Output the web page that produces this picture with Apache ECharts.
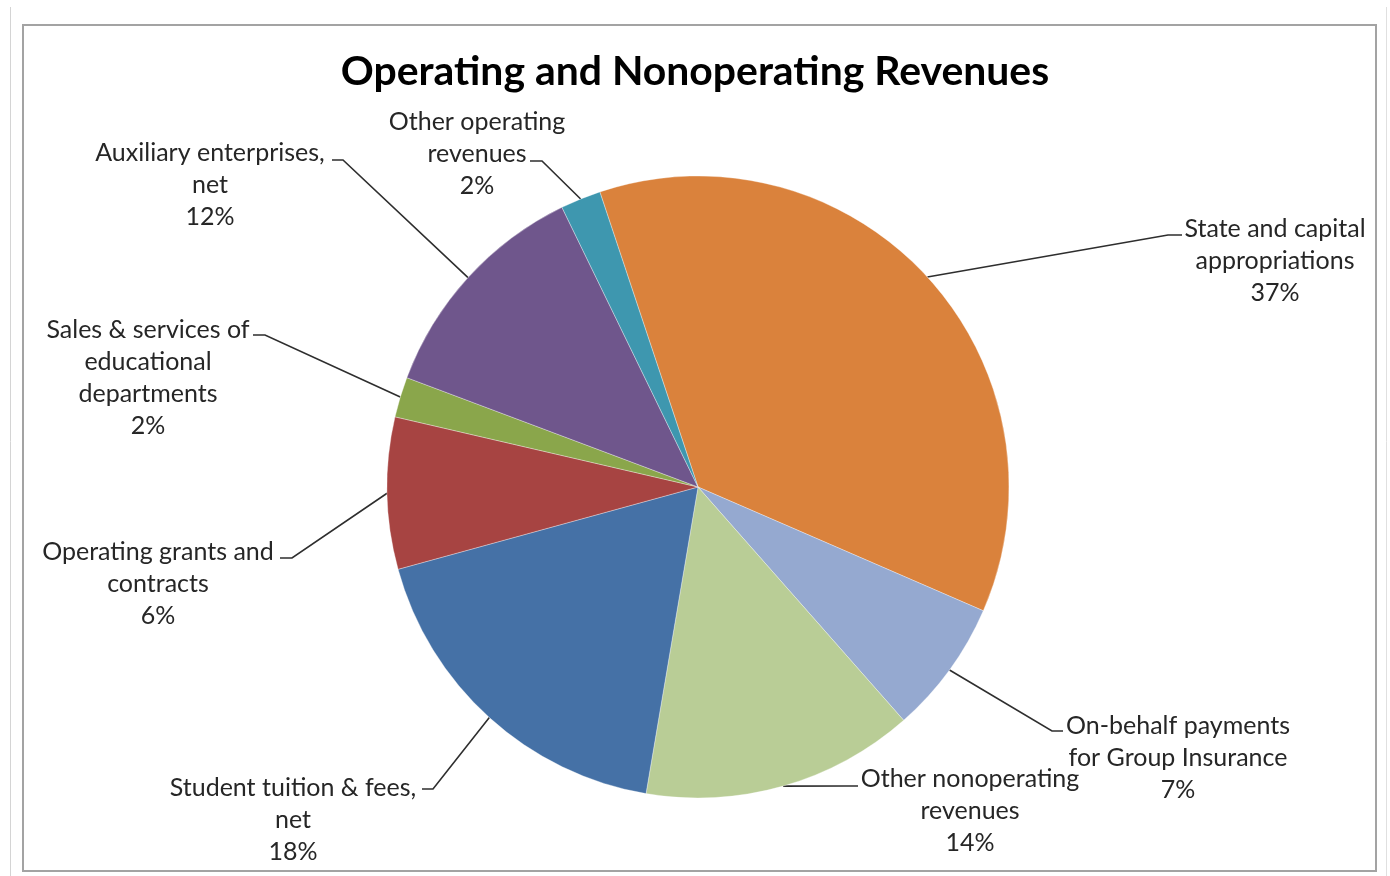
<!DOCTYPE html>
<html>
<head>
<meta charset="utf-8">
<script src="https://cdn.jsdelivr.net/npm/echarts@6/dist/echarts.min.js"></script>
<style>
  html, body { margin: 0; padding: 0; background: #ffffff; }
  #chart { width: 1390px; height: 876px; }
</style>
</head>
<body>
<div id="chart"></div>
<script>
// ---- data ----
const categories = [
  'State and capital\nappropriations',
  'On-behalf payments\nfor Group Insurance',
  'Other nonoperating\nrevenues',
  'Student tuition & fees,\nnet',
  'Operating grants and\ncontracts',
  'Sales & services of\neducational\ndepartments',
  'Auxiliary enterprises,\nnet',
  'Other operating\nrevenues'
];
const values = [36.7, 7.0, 14.2, 18.1, 7.9, 2.1, 12.1, 2.1];
// percentages as printed in the data labels
const percentLabels = ['37%', '7%', '14%', '18%', '6%', '2%', '12%', '2%'];

// ---- styling / layout ----
const colors = ['#DA823C', '#95A9D0', '#B9CD96', '#4571A6', '#A74442', '#8AA64B', '#6F568C', '#3E97AF'];
const FONT = 'Lato';
const LINE_H = 32;
// text centre x, first-line centre y, leader elbow and leader end
const labelPos = [
  { cx: 1275, y1: 229, elbow: [1168, 235], end: [1182, 235] },
  { cx: 1178, y1: 726, elbow: [1052, 731], end: [1063, 731] },
  { cx: 970,  y1: 779, elbow: [846, 786],  end: [858, 786] },
  { cx: 293,  y1: 788, elbow: [433, 789],  end: [422, 789] },
  { cx: 158,  y1: 552, elbow: [292, 558],  end: [280, 558] },
  { cx: 148,  y1: 330, elbow: [265, 335],  end: [253, 335] },
  { cx: 210,  y1: 153, elbow: [343, 160],  end: [332, 160] },
  { cx: 477,  y1: 122, elbow: [542, 161],  end: [530, 161] }
];

function fitSize(text, weight, targetWidth) {
  const ctx = document.createElement('canvas').getContext('2d');
  ctx.font = weight + ' 100px ' + FONT;
  const w = ctx.measureText(text).width;
  return Math.round(100 * targetWidth / w * 10) / 10;
}
const labelSize = fitSize('Student tuition & fees,', 'normal', 247);
const titleSize = fitSize('Operating and Nonoperating Revenues', 'bold', 708);

const chart = echarts.init(document.getElementById('chart'));
chart.setOption({
  animation: false,
  backgroundColor: '#ffffff',
  title: {
    text: 'Operating and Nonoperating Revenues',
    left: 'center',
    top: 72 - titleSize * 0.62,
    textStyle: { fontFamily: FONT, fontWeight: 'bold', fontSize: titleSize, color: '#000000' }
  },
  graphic: [
    { type: 'rect', silent: true, shape: { x: 23, y: 25, width: 1353, height: 846 },
      style: { fill: 'none', stroke: '#a3a3a3', lineWidth: 2 } },
    { type: 'line', silent: true, shape: { x1: 10.5, y1: 7, x2: 10.5, y2: 876 },
      style: { stroke: '#d4d4d4', lineWidth: 1 } },
    { type: 'line', silent: true, shape: { x1: 1386.5, y1: 7, x2: 1386.5, y2: 876 },
      style: { stroke: '#e0e0e0', lineWidth: 1 } }
  ],
  series: [{
    type: 'pie',
    center: [698, 487],
    radius: 311,
    startAngle: 108.4,
    clockwise: true,
    avoidLabelOverlap: false,
    data: categories.map((name, i) => ({ name: name, value: values[i], itemStyle: { color: colors[i] } })),
    itemStyle: { borderColor: 'rgba(255,255,255,0.55)', borderWidth: 0.6 },
    label: {
      show: true,
      position: 'outside',
      formatter: p => p.name + '\n' + percentLabels[p.dataIndex],
      fontFamily: FONT,
      fontSize: labelSize,
      lineHeight: LINE_H,
      color: '#262626'
    },
    labelLine: {
      show: true,
      length: 10,
      length2: 10,
      smooth: false,
      lineStyle: { color: '#2e2e2e', width: 1.6 }
    },
    labelLayout: function (p) {
      const L = labelPos[p.dataIndex];
      const pts = p.labelLinePoints;
      const start = pts && pts[0] ? pts[0] : L.elbow;
      return {
        x: L.cx,
        y: L.y1 - LINE_H / 2,
        align: 'center',
        verticalAlign: 'top',
        labelLinePoints: [start, L.elbow, L.end]
      };
    },
    emphasis: { disabled: true }
  }]
});
</script>
</body>
</html>
